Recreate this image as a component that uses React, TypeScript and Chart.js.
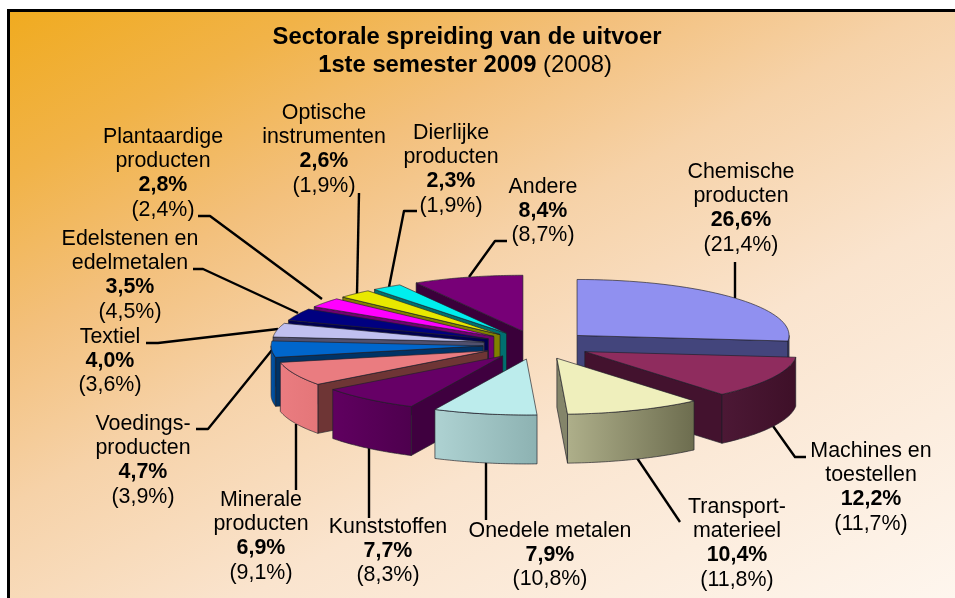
import React, { useEffect, useRef } from "react";
import { Chart, registerables } from "chart.js";

Chart.register(...registerables);

const categories = [
  "Chemische producten", "Machines en toestellen", "Transport-materieel", "Onedele metalen",
  "Kunststoffen", "Minerale producten", "Voedings-producten", "Textiel",
  "Edelstenen en edelmetalen", "Plantaardige producten", "Optische instrumenten", "Dierlijke producten", "Andere",
];
const share2009 = [26.6, 12.2, 10.4, 7.9, 7.7, 6.9, 4.7, 4.0, 3.5, 2.8, 2.6, 2.3, 8.4];
const share2008 = [21.4, 11.7, 11.8, 10.8, 8.3, 9.1, 3.9, 3.6, 4.5, 2.4, 1.9, 1.9, 8.7];
const nameLines = [
  ["Chemische", "producten"], ["Machines en", "toestellen"], ["Transport-", "materieel"], ["Onedele metalen"],
  ["Kunststoffen"], ["Minerale", "producten"], ["Voedings-", "producten"], ["Textiel"],
  ["Edelstenen en", "edelmetalen"], ["Plantaardige", "producten"], ["Optische", "instrumenten"], ["Dierlijke", "producten"], ["Andere"],
];

const topColors = ["#9090f0", "#8f2c5e", "#efefbc", "#bcecec", "#660066", "#ea7c80", "#0066cc", "#c0c0f0", "#000080", "#ff00ff", "#e8e800", "#00eeee", "#770077"];
const radialColors = ["#43457c", "#43122e", "#84856a", "#8fb4b4", "#3f003f", "#6e3535", "#003366", "#50506e", "#000050", "#700070", "#808000", "#007070", "#3a003a"];
const outerLight = ["#45457a", "#4c1835", "#aeaf8a", "#aed2d2", "#600060", "#ea7c80", "#0058b0", "#50506e", "#000050", "#700070", "#808000", "#007070", "#3a003a"];
const outerDark = ["#45457a", "#3e1028", "#6d6d4f", "#8db2b2", "#4e004e", "#e47679", "#004488", "#50506e", "#000050", "#700070", "#808000", "#007070", "#3a003a"];
const paintOrder = [12, 11, 10, 9, 8, 7, 6, 5, 4, 0, 1, 2, 3];

// Layout (pixels)
const W = 955, H = 598;
const CX = 537, CY = 345, RADIUS = 212, SQUASH = 0.264, DEPTH = 49, EXPLODE = 54;
const labelPos: [number, number][] = [
  [741, 172], [871, 451], [737, 507], [550, 531], [388, 527], [261, 500], [143, 424], [110, 337], [130, 239], [163, 137], [324, 113], [451, 133], [543, 187],
];
const LINE_H = 24.3;
const leaders: [number, number][][] = [
  [[735, 298], [735, 262]],
  [[773, 426], [795, 457], [806, 457]],
  [[637, 458], [680, 522]],
  [[486, 460], [486, 520]],
  [[369, 447], [369, 518]],
  [[296, 424], [296, 490]],
  [[272, 350], [208, 429], [196, 429]],
  [[278, 329], [158, 343], [146, 343]],
  [[298, 313], [203, 269], [193, 269]],
  [[322, 299], [210, 216], [198, 216]],
  [[357, 294], [359, 193]],
  [[389, 287], [404, 211], [417, 211]],
  [[469, 277], [495, 241], [507, 241]],
];
const FONT = '"Liberation Sans", Arial, sans-serif';
const TITLE_PX = 23.8;
const LABEL_PX = 21.4;

const fmt = (v: number) => v.toFixed(1).replace(".", ",") + "%";

const scene = {
  id: "scene",
  beforeDraw(chart: any) {
    const ctx = chart.ctx;
    ctx.save();
    ctx.fillStyle = "#ffffff";
    ctx.fillRect(0, 0, W, H);
    const g = ctx.createLinearGradient(10, 12, 468, 861);
    g.addColorStop(0, "#f0ab20");
    g.addColorStop(0.15, "#f1b348");
    g.addColorStop(0.3, "#f3c07c");
    g.addColorStop(0.45, "#f6d2a8");
    g.addColorStop(0.65, "#fae4ce");
    g.addColorStop(1, "#fef6ee");
    ctx.fillStyle = g;
    ctx.fillRect(9, 11, W, H);
    ctx.fillStyle = "#000000";
    ctx.fillRect(7, 9, W, 3);
    ctx.fillRect(7, 9, 3, H);
    ctx.strokeStyle = "#000000";
    ctx.lineWidth = 2.4;
    ctx.lineJoin = "round";
    for (const pts of leaders) {
      ctx.beginPath();
      pts.forEach(([x, y], i) => (i ? ctx.lineTo(x, y) : ctx.moveTo(x, y)));
      ctx.stroke();
    }
    ctx.restore();
  },
  beforeDatasetsDraw(chart: any) {
    const ctx = chart.ctx;
    const arcs = chart.getDatasetMeta(0).data;
    const edge = "rgba(30,30,40,0.65)";
    for (const i of paintOrder) {
      const arc = arcs[i];
      const { x, y, startAngle: a, endAngle: b, outerRadius: r } = arc.getProps(["x", "y", "startAngle", "endAngle", "outerRadius"], true);
      const mid = (a + b) / 2;
      const dx = Math.cos(mid) * EXPLODE;
      const dy = Math.sin(mid) * EXPLODE;
      const ax = x + dx;
      const ay = CY + (y + dy - CY) * SQUASH;
      const pt = (t: number, dz = 0): [number, number] => [ax + Math.cos(t) * r, ay + Math.sin(t) * r * SQUASH + dz];
      const face = (t: number) => {
        const [px, py] = pt(t);
        ctx.beginPath();
        ctx.moveTo(ax, ay);
        ctx.lineTo(px, py);
        ctx.lineTo(px, py + DEPTH);
        ctx.lineTo(ax, ay + DEPTH);
        ctx.closePath();
        ctx.fillStyle = radialColors[i];
        ctx.fill();
        ctx.strokeStyle = edge;
        ctx.lineWidth = 1;
        ctx.stroke();
      };
      if (Math.cos(a) < 0) face(a);
      if (Math.cos(b) > 0) face(b);
      const s = Math.max(a, 0), e = Math.min(b, Math.PI);
      if (e > s) {
        const xs = [pt(s)[0], pt(e)[0]];
        const g = ctx.createLinearGradient(Math.min(...xs), 0, Math.max(...xs), 0);
        g.addColorStop(0, outerLight[i]);
        g.addColorStop(1, outerDark[i]);
        ctx.beginPath();
        const n = 40;
        for (let k = 0; k <= n; k++) {
          const [px, py] = pt(s + ((e - s) * k) / n);
          k ? ctx.lineTo(px, py) : ctx.moveTo(px, py);
        }
        for (let k = n; k >= 0; k--) {
          const [px, py] = pt(s + ((e - s) * k) / n, DEPTH);
          ctx.lineTo(px, py);
        }
        ctx.closePath();
        ctx.fillStyle = g;
        ctx.fill();
        ctx.strokeStyle = edge;
        ctx.lineWidth = 1;
        ctx.stroke();
      }
      // top surface, through the library's arc element
      ctx.save();
      ctx.translate(0, CY);
      ctx.scale(1, SQUASH);
      ctx.translate(dx, dy - CY);
      arc.draw(ctx);
      ctx.restore();
      // outline of the top surface
      ctx.beginPath();
      ctx.moveTo(ax, ay);
      const n = 40;
      for (let k = 0; k <= n; k++) {
        const [px, py] = pt(a + ((b - a) * k) / n);
        ctx.lineTo(px, py);
      }
      ctx.closePath();
      ctx.strokeStyle = edge;
      ctx.lineWidth = 1;
      ctx.stroke();
    }
    return false;
  },
  afterDraw(chart: any) {
    const ctx = chart.ctx;
    ctx.save();
    ctx.fillStyle = "#000000";
    ctx.textBaseline = "middle";
    ctx.textAlign = "center";
    ctx.font = `bold ${TITLE_PX}px ${FONT}`;
    ctx.fillText("Sectorale spreiding van de uitvoer", 467, 37);
    const bold = "1ste semester 2009";
    const reg = " (2008)";
    const bw = ctx.measureText(bold).width;
    ctx.font = `${TITLE_PX}px ${FONT}`;
    const rw = ctx.measureText(reg).width;
    const left = 465 - (bw + rw) / 2;
    ctx.textAlign = "left";
    ctx.fillText(reg, left + bw, 65);
    ctx.font = `bold ${TITLE_PX}px ${FONT}`;
    ctx.fillText(bold, left, 65);
    ctx.textAlign = "center";
    categories.forEach((_, i) => {
      const [x, y0] = labelPos[i];
      let y = y0;
      ctx.font = `${LABEL_PX}px ${FONT}`;
      for (const line of nameLines[i]) {
        ctx.fillText(line, x, y);
        y += LINE_H;
      }
      ctx.font = `bold ${LABEL_PX}px ${FONT}`;
      ctx.fillText(fmt(share2009[i]), x, y);
      y += LINE_H;
      ctx.font = `${LABEL_PX}px ${FONT}`;
      ctx.fillText(`(${fmt(share2008[i])})`, x, y);
    });
    ctx.restore();
  },
};

export default function App() {
  const ref = useRef<HTMLCanvasElement>(null);
  useEffect(() => {
    const chart = new Chart(ref.current as HTMLCanvasElement, {
      type: "pie",
      data: {
        labels: categories,
        datasets: [
          {
            data: share2009,
            backgroundColor: topColors,
            borderWidth: 0,
          },
        ],
      },
      options: {
        responsive: false,
        animation: false,
        radius: RADIUS,
        layout: { padding: { left: 2 * CX - W, top: 2 * CY - H } },
        plugins: { legend: { display: false }, title: { display: false }, tooltip: { enabled: false } },
      } as any,
      plugins: [scene as any],
    });
    return () => chart.destroy();
  }, []);
  return (
    <div style={{ position: "absolute", left: 0, top: 0, width: W, height: H, overflow: "hidden" }}>
      <canvas ref={ref} width={W} height={H} style={{ display: "block" }} />
    </div>
  );
}
